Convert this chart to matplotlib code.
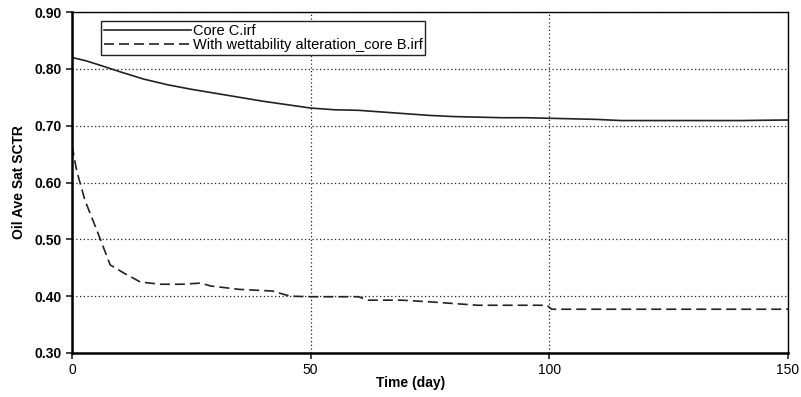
import matplotlib
matplotlib.use("Agg")
import matplotlib.pyplot as plt

plt.rcParams["font.family"] = ["Liberation Sans", "DejaVu Sans"]

# Core C
core_c_day = [0, 3, 6, 10, 15, 20, 25, 30, 35, 40, 45, 50, 55, 60, 65, 70, 75, 80, 85, 90, 95, 100, 105, 110, 115, 120, 130, 140, 150]
core_c_sat = [0.820, 0.814, 0.806, 0.795, 0.782, 0.772, 0.764, 0.757, 0.750, 0.743, 0.737, 0.731, 0.728, 0.727, 0.724, 0.721, 0.718, 0.716, 0.715, 0.714, 0.714, 0.713, 0.712, 0.711, 0.709, 0.709, 0.709, 0.709, 0.710]

# with wettability alteration
core_b_day = [0, 1, 2.7, 5.2, 8, 11, 14.3, 18.4, 23, 27, 29, 35, 42, 45.7, 50, 60, 62, 69, 75, 85, 99.5, 100.5, 120, 150]
core_b_sat = [0.665, 0.620, 0.569, 0.516, 0.455, 0.440, 0.425, 0.421, 0.421, 0.423, 0.418, 0.412, 0.409, 0.400, 0.399, 0.399, 0.393, 0.393, 0.390, 0.384, 0.384, 0.377, 0.377, 0.377]

x_ticks = [0, 50, 100, 150]
y_ticks = [0.30, 0.40, 0.50, 0.60, 0.70, 0.80, 0.90]

fig = plt.figure(figsize=(8.01, 3.97), dpi=100)
ax = fig.add_axes([72 / 801, 44 / 397, 716 / 801, 341 / 397])

ax.plot(core_c_day, core_c_sat, color="#222222", lw=1.2, ls="-", label="Core C.irf")
ax.plot(core_b_day, core_b_sat, color="#222222", lw=1.2, ls=(0, (6, 3)),
        label="With wettability alteration_core B.irf")

ax.set_xlim(0, 150)
ax.set_ylim(0.30, 0.90)
ax.set_xticks(x_ticks)
ax.set_yticks(y_ticks)
ax.set_yticklabels(["%.2f" % v for v in y_ticks], fontsize=10, fontweight="bold")
ax.set_xticklabels([str(v) for v in x_ticks], fontsize=10)
ax.grid(True, color="#222222", ls=(0, (1, 2)), lw=0.9)
ax.tick_params(direction="out", length=4, width=1.2, color="#222222")

for side in ["left", "bottom"]:
    ax.spines[side].set_linewidth(1.8)
for side in ["top", "right"]:
    ax.spines[side].set_linewidth(1.0)

ax.set_xlabel("Time (day)", fontsize=10, fontweight="bold")
ax.set_ylabel("Oil Ave Sat SCTR", fontsize=10, fontweight="bold", labelpad=6)
ax.xaxis.set_label_coords(0.473, -0.068)

leg = ax.legend(loc="upper left", bbox_to_anchor=(0.03, 0.995), fontsize=10.5,
                handlelength=6, handletextpad=0.1, borderpad=0.2,
                labelspacing=0.0, fancybox=False, framealpha=1,
                edgecolor="#222222")
leg.get_frame().set_linewidth(1.0)

fig.savefig("out.png", dpi=100)
